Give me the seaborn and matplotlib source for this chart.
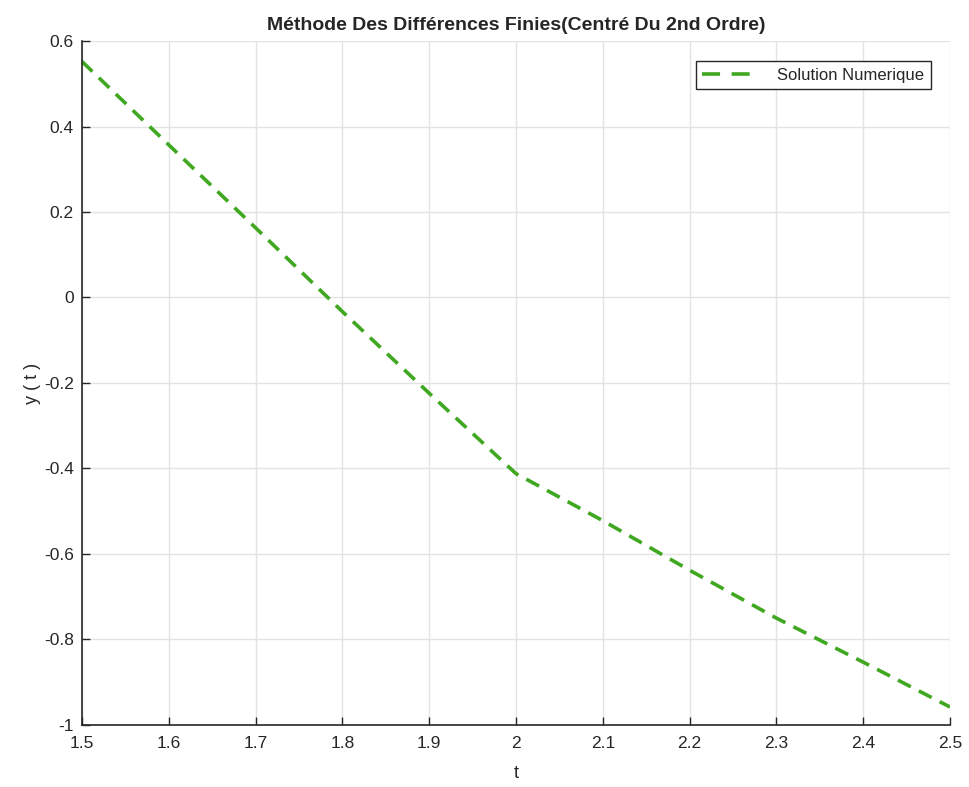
import pandas as pd
import matplotlib.pyplot as plt
import seaborn as sns

# valeurs
t = [1.5, 1.6, 1.7, 1.8, 1.9, 2.0, 2.1, 2.2, 2.3, 2.4, 2.5]
y = [0.552, 0.357, 0.163, -0.033, -0.224, -0.412, -0.522, -0.638, -0.75, -0.853, -0.958]
xticks = [1.5, 1.6, 1.7, 1.8, 1.9, 2.0, 2.1, 2.2, 2.3, 2.4, 2.5]
xticklabels = ["1.5", "1.6", "1.7", "1.8", "1.9", "2", "2.1", "2.2", "2.3", "2.4", "2.5"]
yticks = [-1, -0.8, -0.6, -0.4, -0.2, 0, 0.2, 0.4, 0.6]
yticklabels = ["-1", "-0.8", "-0.6", "-0.4", "-0.2", "0", "0.2", "0.4", "0.6"]

df = pd.DataFrame({"t": t, "y": y})

sns.set_style("whitegrid")
plt.rcParams["font.family"] = ["Liberation Sans", "DejaVu Sans"]

fig = plt.figure(figsize=(9.69, 7.87), dpi=100)
ax = fig.add_axes([0.0846, 0.0788, 0.8958, 0.8691])

dash = (0, (4, 2.5))
sns.lineplot(data=df, x="t", y="y", ax=ax, color="#3fa820", linewidth=2.6,
             linestyle=dash, label="Solution Numerique")

ax.set_xlim(1.5, 2.5)
ax.set_ylim(-1, 0.6)
ax.set_xticks(xticks)
ax.set_xticklabels(xticklabels)
ax.set_yticks(yticks)
ax.set_yticklabels(yticklabels)
ax.grid(True, color="#e3e3e3", linewidth=1)
for side in ["top", "right"]:
    ax.spines[side].set_visible(False)
for side in ["left", "bottom"]:
    ax.spines[side].set_color("#262626")
    ax.spines[side].set_linewidth(1.2)
ax.tick_params(direction="in", length=6, width=1, colors="#262626",
               labelsize=12.5, pad=6, bottom=True, left=True)
ax.tick_params(axis="x", pad=8)

ax.set_xlabel("t", fontsize=13, color="#262626", labelpad=10)
ax.set_ylabel("y ( t )", fontsize=13, color="#262626", labelpad=2)
ax.set_title("Méthode Des Différences Finies(Centré Du 2nd Ordre)",
             fontsize=14, fontweight="bold", pad=8)

leg = ax.legend(loc="upper right", bbox_to_anchor=(0.978, 0.971), borderaxespad=0,
                fontsize=12, fancybox=False, framealpha=1, borderpad=0.4,
                handlelength=3.3, handletextpad=1.2)
leg.get_frame().set_edgecolor("#262626")
leg.get_frame().set_linewidth(1)
for h in leg.get_lines():
    h.set_linestyle((0, (5, 3.2)))

fig.savefig("out.png", dpi=100)
